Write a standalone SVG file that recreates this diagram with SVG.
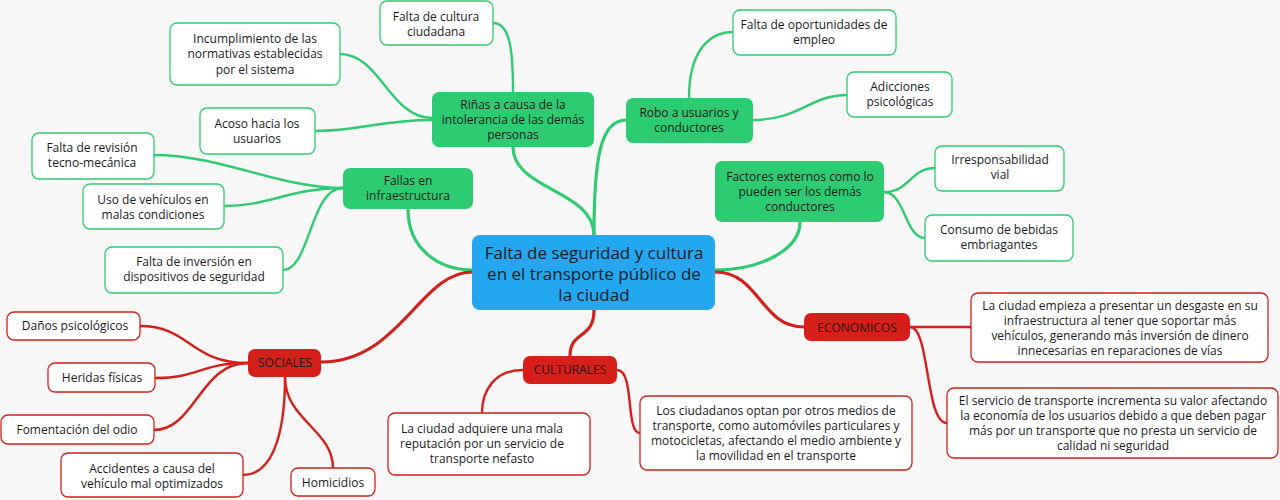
<svg xmlns="http://www.w3.org/2000/svg" width="1280" height="500" viewBox="0 0 1280 500">
<style>
text{font-family:"Open Sans","Noto Sans","Liberation Sans",sans-serif;font-size:12px;fill:#1a1a1a;text-anchor:middle}
.c text{font-size:17px}
.g rect{fill:#2ecc71}
.r rect{fill:#d41f1a}
.gl rect{fill:#ffffff;stroke:#2ecc71;stroke-width:1.3}
.rl rect{fill:#ffffff;stroke:#d41f1a;stroke-width:1.3}
.cg path{fill:none;stroke:#2ecc71;stroke-linecap:round}
.cr path{fill:none;stroke:#d41f1a;stroke-linecap:round}
.m{stroke-width:3.2}
.l{stroke-width:2.4}
</style>
<rect width="1280" height="500" fill="#f7f7f7"/>
<g id="connectors">
<g class="cg">
<path class="m" d="M594,235 C594,190 513,190 513,147"/>
<path class="m" d="M594,235 C594,160 600,120 626,120"/>
<path class="m" d="M408,209 C408,250 440,270 472,270"/>
<path class="m" d="M800,222 C800,250 760,270 715,270"/>
<path class="l" d="M493,23 C510,23 513,50 513,92"/>
<path class="l" d="M340,54 C380,54 390,118 432,118"/>
<path class="l" d="M315,131 C360,131 380,120 432,120"/>
<path class="l" d="M154,155 C220,155 280,188 343,188"/>
<path class="l" d="M224,206 C270,206 290,188 343,188"/>
<path class="l" d="M283,270 C310,270 310,188 343,188"/>
<path class="l" d="M689,98 C689,50 710,32 733,32"/>
<path class="l" d="M753,120 C800,120 810,95 847,95"/>
<path class="l" d="M884,192 C910,192 910,168 935,168"/>
<path class="l" d="M884,192 C905,192 905,238 925,238"/>
</g>
<g class="cr">
<path class="m" d="M472,272 C420,272 400,362 321,362"/>
<path class="m" d="M594,310 C594,340 570,330 570,356"/>
<path class="m" d="M715,272 C760,272 760,327 804,327"/>
<path class="l" d="M140,326 C190,326 190,363 248,363"/>
<path class="l" d="M155,378 C200,378 200,363 248,363"/>
<path class="l" d="M154,430 C195,430 200,363 248,363"/>
<path class="l" d="M243,475 C270,475 285,440 285,377"/>
<path class="l" d="M333,468 C333,430 285,420 285,377"/>
<path class="l" d="M523,370 C495,370 482,390 482,413"/>
<path class="l" d="M617,370 C635,370 625,433 640,433"/>
<path class="l" d="M910,327 C940,327 940,327 971,327"/>
<path class="l" d="M910,327 C930,327 925,423 947,423"/>
</g>
</g>
<g id="central" class="c">
<rect x="472" y="235" width="243" height="75" rx="8" fill="#22a7f0"/>
<text x="594" y="259">Falta de seguridad y cultura</text>
<text x="594" y="280">en el transporte público de</text>
<text x="594" y="301">la ciudad</text>
</g>
<g id="rinas" class="g">
<rect x="432" y="92" width="162" height="55" rx="7"/>
<text x="513" y="109">Riñas a causa de la</text>
<text x="513" y="124">intolerancia de las demás</text>
<text x="513" y="139">personas</text>
</g>
<g id="falta-cultura" class="gl">
<rect x="380" y="1" width="113" height="44" rx="7"/>
<text x="436" y="21">Falta de cultura</text>
<text x="436" y="36">ciudadana</text>
</g>
<g id="incumplimiento" class="gl">
<rect x="170" y="23" width="170" height="62" rx="7"/>
<text x="255" y="43">Incumplimiento de las</text>
<text x="255" y="58">normativas establecidas</text>
<text x="255" y="74">por el sistema</text>
</g>
<g id="acoso" class="gl">
<rect x="200" y="108" width="115" height="46" rx="7"/>
<text x="257" y="128">Acoso hacia los</text>
<text x="257" y="143">usuarios</text>
</g>
<g id="fallas" class="g">
<rect x="343" y="168" width="130" height="41" rx="7"/>
<text x="408" y="185">Fallas en</text>
<text x="408" y="200">infraestructura</text>
</g>
<g id="revision" class="gl">
<rect x="32" y="133" width="122" height="46" rx="7"/>
<text x="92" y="152">Falta de revisión</text>
<text x="92" y="167">tecno-mecánica</text>
</g>
<g id="uso" class="gl">
<rect x="83" y="184" width="141" height="45" rx="7"/>
<text x="153" y="204">Uso de vehículos en</text>
<text x="153" y="219">malas condiciones</text>
</g>
<g id="inversion" class="gl">
<rect x="105" y="247" width="178" height="46" rx="7"/>
<text x="194" y="266">Falta de inversión en</text>
<text x="194" y="281">dispositivos de seguridad</text>
</g>
<g id="robo" class="g">
<rect x="626" y="98" width="127" height="45" rx="7"/>
<text x="689" y="117">Robo a usuarios y</text>
<text x="689" y="132">conductores</text>
</g>
<g id="oportunidades" class="gl">
<rect x="733" y="10" width="163" height="45" rx="7"/>
<text x="814" y="29">Falta de oportunidades de</text>
<text x="814" y="44">empleo</text>
</g>
<g id="adicciones" class="gl">
<rect x="847" y="72" width="105" height="45" rx="7"/>
<text x="900" y="91">Adicciones</text>
<text x="900" y="106">psicológicas</text>
</g>
<g id="factores" class="g">
<rect x="715" y="161" width="169" height="61" rx="7"/>
<text x="800" y="181">Factores externos como lo</text>
<text x="800" y="196">pueden ser los demás</text>
<text x="800" y="211">conductores</text>
</g>
<g id="irresponsabilidad" class="gl">
<rect x="935" y="146" width="129" height="45" rx="7"/>
<text x="1000" y="164">Irresponsabilidad</text>
<text x="1000" y="179">vial</text>
</g>
<g id="consumo" class="gl">
<rect x="925" y="215" width="148" height="46" rx="7"/>
<text x="999" y="234">Consumo de bebidas</text>
<text x="999" y="249">embriagantes</text>
</g>
<g id="economicos" class="r">
<rect x="804" y="313" width="106" height="28" rx="7"/>
<text x="857" y="332">ECONOMICOS</text>
</g>
<g id="desgaste" class="rl">
<rect x="971" y="293" width="297" height="69" rx="7"/>
<text x="1120" y="310">La ciudad empieza a presentar un desgaste en su</text>
<text x="1120" y="325">infraestructura al tener que soportar más</text>
<text x="1120" y="340">vehículos, generando más inversión de dinero</text>
<text x="1120" y="355">innecesarias en reparaciones de vías</text>
</g>
<g id="servicio" class="rl">
<rect x="947" y="388" width="331" height="70" rx="7"/>
<text x="1113" y="405">El servicio de transporte incrementa su valor afectando</text>
<text x="1113" y="420">la economía de los usuarios debido a que deben pagar</text>
<text x="1113" y="435">más por un transporte que no presta un servicio de</text>
<text x="1113" y="450">calidad ni seguridad</text>
</g>
<g id="sociales" class="r">
<rect x="248" y="349" width="73" height="28" rx="7"/>
<text x="285" y="367">SOCIALES</text>
</g>
<g id="danos" class="rl">
<rect x="7" y="312" width="133" height="28" rx="7"/>
<text x="75" y="330">Daños psicológicos</text>
</g>
<g id="heridas" class="rl">
<rect x="48" y="363" width="107" height="29" rx="7"/>
<text x="102" y="382">Heridas físicas</text>
</g>
<g id="fomentacion" class="rl">
<rect x="1" y="415" width="153" height="29" rx="7"/>
<text x="77" y="434">Fomentación del odio</text>
</g>
<g id="accidentes" class="rl">
<rect x="61" y="453" width="182" height="44" rx="7"/>
<text x="152" y="473">Accidentes a causa del</text>
<text x="152" y="488">vehículo mal optimizados</text>
</g>
<g id="homicidios" class="rl">
<rect x="291" y="468" width="84" height="28" rx="7"/>
<text x="333" y="487">Homicidios</text>
</g>
<g id="culturales" class="r">
<rect x="523" y="356" width="94" height="28" rx="7"/>
<text x="570" y="374">CULTURALES</text>
</g>
<g id="reputacion" class="rl">
<rect x="388" y="413" width="202" height="62" rx="7"/>
<text x="482" y="433">La ciudad adquiere una mala</text>
<text x="482" y="448">reputación por un servicio de</text>
<text x="482" y="463">transporte nefasto</text>
</g>
<g id="ciudadanos" class="rl">
<rect x="640" y="396" width="272" height="74" rx="7"/>
<text x="776" y="415">Los ciudadanos optan por otros medios de</text>
<text x="776" y="430">transporte, como automóviles particulares y</text>
<text x="776" y="445">motocicletas, afectando el medio ambiente y</text>
<text x="776" y="460">la movilidad en el transporte</text>
</g>
</svg>
